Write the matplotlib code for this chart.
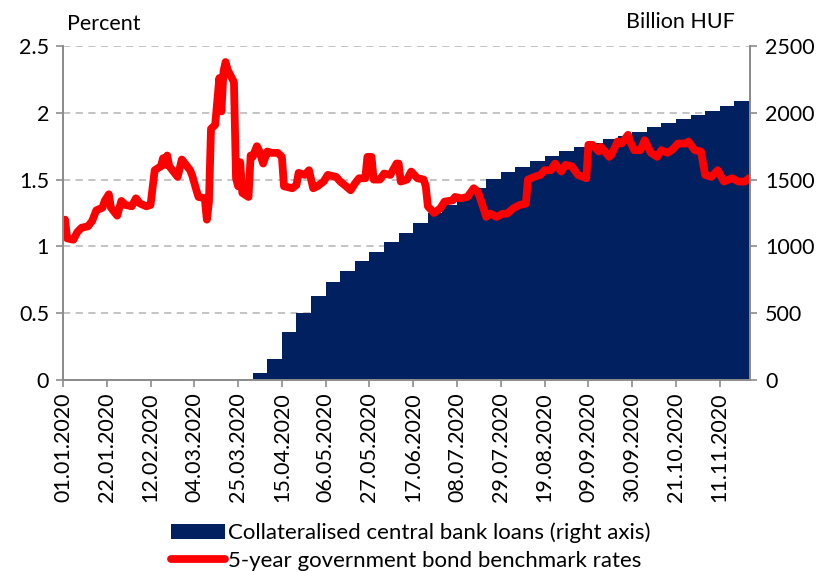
import matplotlib
matplotlib.use("Agg")
import matplotlib.pyplot as plt
import matplotlib.dates as mdates
import pandas as pd

plt.rcParams['font.family'] = ['Lato', 'DejaVu Sans']

# 5-year government bond benchmark yield (percent)
rate_dates = [
    '2020-01-02', '2020-01-03', '2020-01-06', '2020-01-08', '2020-01-10', '2020-01-13',
    '2020-01-15', '2020-01-17', '2020-01-20', '2020-01-21', '2020-01-23', '2020-01-24',
    '2020-01-27', '2020-01-29', '2020-01-31', '2020-02-03', '2020-02-05', '2020-02-07',
    '2020-02-10', '2020-02-12', '2020-02-14', '2020-02-17', '2020-02-18', '2020-02-19',
    '2020-02-20', '2020-02-21', '2020-02-25', '2020-02-27', '2020-03-02', '2020-03-03',
    '2020-03-05', '2020-03-06', '2020-03-09', '2020-03-10', '2020-03-11', '2020-03-12',
    '2020-03-14', '2020-03-16', '2020-03-17', '2020-03-18', '2020-03-19', '2020-03-20',
    '2020-03-22', '2020-03-23', '2020-03-24', '2020-03-25', '2020-03-26', '2020-03-27',
    '2020-03-30', '2020-03-31', '2020-04-01', '2020-04-03', '2020-04-04', '2020-04-06',
    '2020-04-08', '2020-04-10', '2020-04-13', '2020-04-15', '2020-04-16', '2020-04-20',
    '2020-04-22', '2020-04-23', '2020-04-26', '2020-04-28', '2020-04-30', '2020-05-02',
    '2020-05-05', '2020-05-07', '2020-05-11', '2020-05-13', '2020-05-15', '2020-05-18',
    '2020-05-20', '2020-05-22', '2020-05-25', '2020-05-26', '2020-05-28', '2020-05-29',
    '2020-06-01', '2020-06-03', '2020-06-06', '2020-06-09', '2020-06-10', '2020-06-11',
    '2020-06-14', '2020-06-16', '2020-06-19', '2020-06-22', '2020-06-23', '2020-06-24',
    '2020-06-27', '2020-06-30', '2020-07-02', '2020-07-06', '2020-07-07', '2020-07-10',
    '2020-07-13', '2020-07-16', '2020-07-18', '2020-07-21', '2020-07-22', '2020-07-24',
    '2020-07-27', '2020-07-30', '2020-08-01', '2020-08-04', '2020-08-07', '2020-08-10',
    '2020-08-11', '2020-08-14', '2020-08-17', '2020-08-19', '2020-08-22', '2020-08-24',
    '2020-08-27', '2020-08-29', '2020-09-01', '2020-09-04', '2020-09-08', '2020-09-09',
    '2020-09-11', '2020-09-14', '2020-09-15', '2020-09-19', '2020-09-20', '2020-09-23',
    '2020-09-25', '2020-09-28', '2020-09-29', '2020-10-01', '2020-10-04', '2020-10-06',
    '2020-10-09', '2020-10-12', '2020-10-14', '2020-10-17', '2020-10-19', '2020-10-22',
    '2020-10-26', '2020-10-27', '2020-10-30', '2020-11-02', '2020-11-04', '2020-11-07',
    '2020-11-10', '2020-11-13', '2020-11-17', '2020-11-20', '2020-11-23', '2020-11-25',
]
rate_values = [
    1.20, 1.06, 1.05, 1.11, 1.14, 1.15,
    1.19, 1.27, 1.29, 1.34, 1.39, 1.29,
    1.23, 1.34, 1.31, 1.30, 1.36, 1.32,
    1.30, 1.31, 1.57, 1.60, 1.66, 1.61,
    1.68, 1.60, 1.52, 1.65, 1.57, 1.53,
    1.42, 1.37, 1.36, 1.20, 1.33, 1.88,
    1.91, 2.26, 2.01, 2.31, 2.38, 2.32,
    2.26, 2.23, 1.51, 1.45, 1.63, 1.40,
    1.37, 1.68, 1.67, 1.75, 1.72, 1.62,
    1.71, 1.70, 1.70, 1.67, 1.45, 1.435,
    1.46, 1.55, 1.535, 1.57, 1.435, 1.45,
    1.485, 1.535, 1.52, 1.485, 1.46, 1.42,
    1.47, 1.51, 1.51, 1.67, 1.67, 1.50,
    1.50, 1.545, 1.535, 1.62, 1.62, 1.485,
    1.50, 1.56, 1.51, 1.50, 1.45, 1.30,
    1.25, 1.285, 1.335, 1.345, 1.37, 1.36,
    1.37, 1.435, 1.41, 1.27, 1.22, 1.245,
    1.22, 1.245, 1.245, 1.285, 1.31, 1.32,
    1.50, 1.52, 1.535, 1.57, 1.57, 1.62,
    1.56, 1.61, 1.60, 1.535, 1.51, 1.76,
    1.76, 1.71, 1.745, 1.67, 1.685, 1.785,
    1.77, 1.835, 1.785, 1.72, 1.72, 1.795,
    1.70, 1.67, 1.72, 1.70, 1.72, 1.77,
    1.77, 1.785, 1.72, 1.71, 1.535, 1.52,
    1.57, 1.485, 1.51, 1.485, 1.485, 1.51,
]

# collateralised central bank loans, weekly (billion HUF)
loan_start = '2020-04-01'
loan_values = [
    50, 155, 357, 504, 631, 731, 814, 888, 960, 1031,
    1103, 1173, 1248, 1310, 1375, 1440, 1504, 1554, 1597, 1639,
    1677, 1714, 1742, 1776, 1801, 1826, 1859, 1891, 1921, 1951,
    1981, 2011, 2053, 2091, 2133,
]

tick_dates = pd.date_range('2020-01-01', periods=16, freq='21D')

navy = '#002060'
grey = '#8c8c8c'
fs = 15.5

fig = plt.figure(figsize=(8.22, 5.71), dpi=100)
ax2 = fig.add_axes([0.0766, 0.3345, 0.8358, 0.585])
ax = ax2.twinx()
# line axis above the bar axis, transparent background
ax.set_zorder(ax2.get_zorder() + 1)
ax.patch.set_visible(False)

loan_dates = pd.date_range(loan_start, periods=len(loan_values), freq='7D')
bars = ax2.bar(loan_dates, loan_values, width=7, align='edge', color=navy, linewidth=0,
               zorder=2, label='Collateralised central bank loans (right axis)')
ax2.set_ylim(0, 2500)
ax2.set_yticks(range(0, 2501, 500))
ax2.yaxis.grid(True, linestyle=(0, (4, 3)), color='#bfbfbf', linewidth=1.3, zorder=0)
ax2.set_axisbelow(True)

line, = ax.plot(pd.to_datetime(rate_dates), rate_values, color='#ff0000', linewidth=5.6,
                solid_joinstyle='round', solid_capstyle='round',
                label='5-year government bond benchmark rates')
ax.set_ylim(0, 2.5)
ax.set_yticks([0, 0.5, 1, 1.5, 2, 2.5])
ax.set_yticklabels(['0', '0.5', '1', '1.5', '2', '2.5'])

# bars use the right scale, the rate the left one
ax2.yaxis.tick_right()
ax.yaxis.tick_left()

xmin = pd.Timestamp('2020-01-01')
xmax = pd.Timestamp('2020-11-25 12:00')
ax2.set_xlim(xmin, xmax)
ax2.set_xticks(tick_dates)
ax2.xaxis.set_major_formatter(mdates.DateFormatter('%d.%m.%Y'))
for lab in ax2.get_xticklabels():
    lab.set_rotation(90)
    lab.set_fontsize(fs)

for a in (ax, ax2):
    for s in a.spines.values():
        s.set_color(grey)
        s.set_linewidth(1.3)
    a.spines['top'].set_visible(False)
    a.tick_params(colors=grey, labelcolor='black', labelsize=fs, length=5, width=1.2)
ax2.tick_params(axis='x', pad=4)
ax.tick_params(axis='y', pad=5)
ax2.tick_params(axis='y', pad=6)

fig.text(67 / 822, 1 - 24 / 571, 'Percent', fontsize=fs, va='center', ha='left')
fig.text(735 / 822, 1 - 22 / 571, 'Billion HUF', fontsize=fs, va='center', ha='right')

fig.legend([bars, line], [bars.get_label(), line.get_label()],
           loc='upper center', bbox_to_anchor=(0.5, 1 - 514 / 571), frameon=False,
           fontsize=16, handlelength=2.4, handleheight=0.65, handletextpad=0.15,
           labelspacing=0.32, borderaxespad=0)

fig.savefig('out.png', dpi=100)
